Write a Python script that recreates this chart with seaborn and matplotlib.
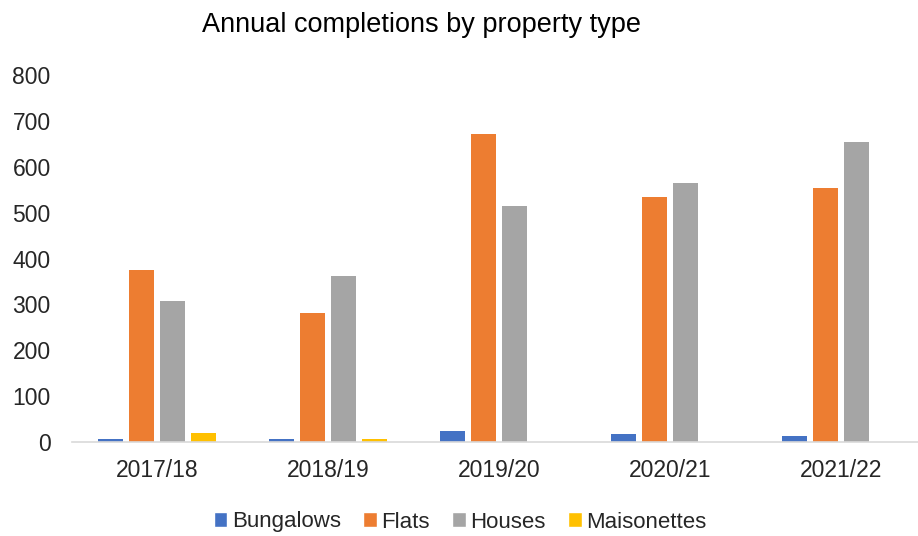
import matplotlib
matplotlib.use("Agg")
import matplotlib.pyplot as plt
from matplotlib.patches import Patch
import seaborn as sns
import pandas as pd

years = ["2017/18", "2018/19", "2019/20", "2020/21", "2021/22"]
property_types = ["Bungalows", "Flats", "Houses", "Maisonettes"]
bungalows = [6, 6, 23, 17, 13]
flats = [375, 281, 672, 533, 553]
houses = [308, 362, 515, 564, 655]
maisonettes = [20, 6, 0, 0, 0]
colors = ["#4472C4", "#ED7D31", "#A5A5A5", "#FFC000"]
y_ticks = [0, 100, 200, 300, 400, 500, 600, 700, 800]

df = pd.DataFrame({
    "Year": years * 4,
    "Type": [t for t in property_types for _ in years],
    "Completions": bungalows + flats + houses + maisonettes,
})

sns.set_theme(style="white")
plt.rcParams["font.family"] = ["Liberation Sans", "DejaVu Sans"]

fig = plt.figure(figsize=(9.18, 5.36), dpi=100)
ax = fig.add_axes([71.5 / 918, 94 / 536, (918 - 71.5) / 918, 367 / 536])

sns.barplot(data=df, x="Year", y="Completions", hue="Type", order=years,
            hue_order=property_types, palette=colors, width=0.725, gap=0.22,
            saturation=1, legend=False, ax=ax, linewidth=0)

ax.set_xlim(-0.5, 4.45)
ax.set_ylim(0, 800)
ax.set_yticks(y_ticks)
ax.set_xlabel("")
ax.set_ylabel("")
for s in ["top", "right", "left"]:
    ax.spines[s].set_visible(False)
ax.spines["bottom"].set_color("#d9d9d9")
ax.spines["bottom"].set_linewidth(1.2)
ax.tick_params(axis="both", length=0, labelsize=16.5, colors="#262626")
ax.tick_params(axis="y", pad=15)
ax.tick_params(axis="x", pad=12)

fig.text(422 / 918, 1 - 25 / 536, "Annual completions by property type",
         ha="center", va="center", fontsize=19.5, color="#000000")

handles = [Patch(facecolor=c, label=t) for c, t in zip(colors, property_types)]
fig.legend(handles=handles, loc="center", bbox_to_anchor=(460 / 918, 1 - 522 / 536),
           ncol=4, frameon=False, fontsize=16, handlelength=0.62, handleheight=0.62,
           handletextpad=0.2, columnspacing=1.0, labelcolor="#262626",
           borderpad=0, borderaxespad=0)

fig.savefig("out.png", dpi=100, facecolor="white")
